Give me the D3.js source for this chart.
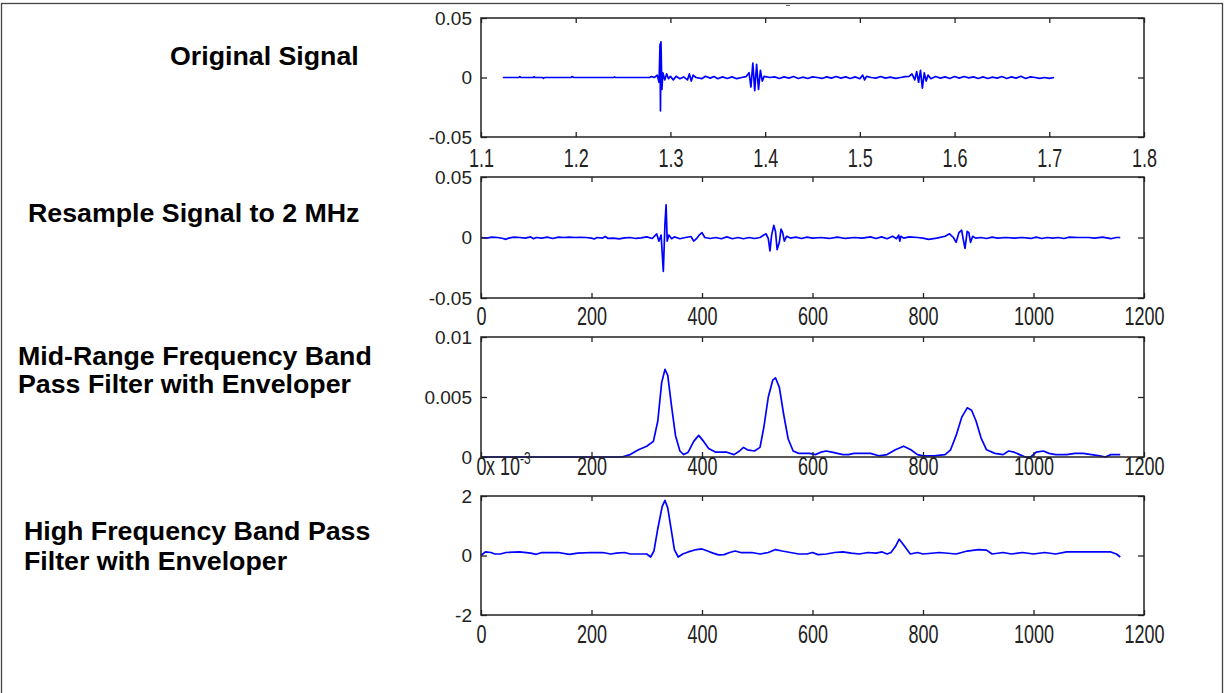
<!DOCTYPE html>
<html>
<head>
<meta charset="utf-8">
<title>Signal processing stages</title>
<script src="https://d3js.org/d3.v7.min.js"></script>
<style>
  body { margin: 0; background: #fff; }
  .caption { font-family: "Liberation Sans", Arial, sans-serif; font-size: 25px; font-weight: bold; fill: #000; }
  .tick text { font-family: "Liberation Sans", Arial, sans-serif; font-size: 18px; fill: #222; }
  .yax .tick text { font-size: 19px; }
  .tick line { stroke: #222; stroke-width: 1.3; }
</style>
</head>
<body>
<script>
// ---- data ----
// panel 1: original signal, time (ms) vs amplitude
const origT = [1.123,1.140,1.141,1.142,1.155,1.156,1.157,1.165,1.166,1.167,1.195,1.196,1.198,1.240,1.241,1.242,1.278,1.280,1.283,1.286,1.288,1.289,1.2895,1.290,1.291,1.292,1.294,1.296,1.298,1.300,1.303,1.306,1.310,1.314,1.318,1.320,1.322,1.324,1.327,1.333,1.337,1.342,1.346,1.350,1.355,1.360,1.365,1.370,1.375,1.380,1.383,1.385,1.387,1.389,1.391,1.393,1.395,1.397,1.399,1.405,1.410,1.415,1.420,1.425,1.430,1.435,1.440,1.445,1.450,1.455,1.460,1.465,1.470,1.475,1.480,1.485,1.490,1.495,1.500,1.503,1.505,1.507,1.512,1.517,1.522,1.527,1.532,1.538,1.543,1.548,1.552,1.555,1.558,1.560,1.562,1.564,1.566,1.568,1.570,1.572,1.575,1.580,1.585,1.590,1.595,1.600,1.605,1.610,1.615,1.620,1.625,1.630,1.635,1.640,1.645,1.650,1.655,1.660,1.665,1.670,1.675,1.680,1.685,1.690,1.695,1.700,1.705];
const origV = [0,0,0.0008,0,0,0.0006,0,0,-0.0008,0,0,0.0008,0,0,0.0005,0,0,0.0008,0,0.002,-0.004,0.028,-0.028,0.030,-0.010,0.004,-0.002,0.003,-0.001,0.001,-0.002,0.001,-0.001,0.0005,-0.002,0.003,-0.003,0.002,0,-0.001,0.001,-0.0005,0.0008,-0.001,0.0005,-0.0008,0.0005,-0.001,0,0.0008,0.004,-0.008,0.012,-0.011,0.011,-0.010,0.006,-0.003,0.001,0,0.0005,-0.0008,0.0005,-0.0005,0.0008,-0.0008,0.0003,-0.0008,0.0005,0,-0.0008,0.0005,-0.0005,0.0008,-0.0005,0.0005,-0.0008,0.0005,-0.001,0.002,-0.002,0.001,0,-0.0005,0.0008,-0.0005,0.0003,-0.0008,0,0.0008,0.001,0.003,-0.002,0.005,-0.004,0.006,-0.009,0.004,-0.003,0.002,-0.001,0.0008,-0.0005,0.0005,-0.0008,0.0008,-0.0005,0.0008,-0.0003,0.0005,-0.0008,0.0005,-0.0008,0.0003,-0.0005,0.0008,-0.0008,0.0005,-0.0005,0.001,-0.0008,0.0005,0,-0.0008,0,-0.0008,0];

// panel 2: resampled to 2 MHz, sample index vs amplitude
const resN = [0,10,20,30,40,45,50,60,70,80,90,95,100,110,120,130,140,150,160,170,180,190,200,205,210,220,225,230,240,250,260,270,280,290,300,310,318,322,326,330,333,335,337,340,345,350,360,370,380,385,390,395,400,405,415,425,435,445,455,465,475,485,495,505,512,516,520,523,526,530,533,536,540,543,546,549,553,560,570,580,590,600,615,630,645,660,675,690,705,715,725,735,745,752,756,758,760,765,775,790,800,810,825,840,848,855,860,865,870,873,876,880,883,886,890,895,905,915,925,935,950,965,980,995,1005,1015,1025,1035,1045,1055,1065,1080,1100,1110,1125,1140,1150,1157];
const resV = [0,-0.0005,0.0003,0,-0.0008,-0.0015,-0.0005,0.0003,0,-0.0005,0.0005,-0.001,0,-0.0005,0.0003,-0.0008,0.0003,0,0.0003,0,0.0002,0,-0.0005,-0.0012,0,-0.0005,0.0008,-0.0008,-0.0005,-0.0012,-0.0003,0,-0.0008,-0.0003,0.0005,-0.0008,0.003,-0.003,0.002,-0.028,0.012,0.027,-0.003,0.002,-0.001,0.0005,-0.001,0,0.0008,-0.003,-0.001,0.002,0.004,0,-0.0008,0,-0.001,0.0005,-0.001,0,-0.001,0,-0.0008,0,0.002,0.003,-0.001,-0.011,0.002,0.010,0.005,-0.010,-0.004,0.007,0.004,-0.003,0.001,-0.0005,0.0003,-0.0008,0.0003,-0.0005,0,-0.0008,0.0003,-0.0008,0,-0.0005,0.0005,-0.0008,0.0005,-0.001,0.001,-0.001,0.002,-0.003,0.001,-0.0005,0.0005,0,-0.0005,-0.0015,-0.0005,0.001,0.003,0,-0.004,0.004,0.006,-0.002,-0.009,0.005,0.004,-0.004,0.001,-0.0005,0,-0.0008,0.0003,-0.0005,0,-0.0005,0,-0.0008,0.0003,-0.0008,0,-0.0005,0,-0.0008,0.0003,0,0,-0.0005,0.0003,-0.001,0,0];

// panel 3: mid-range band envelope
const midN = [0,255,270,285,300,312,320,327,333,338,345,352,360,367,375,385,394,403,412,425,445,458,468,475,482,495,505,512,520,528,533,540,548,556,565,575,595,605,615,625,635,645,655,665,675,690,705,720,735,750,765,778,790,800,820,840,850,860,870,880,888,896,905,915,930,945,955,965,975,985,995,1005,1018,1028,1040,1060,1075,1090,1105,1120,1130,1140,1157];
const midV = [0,0,0.0002,0.0006,0.0009,0.0013,0.003,0.0062,0.0073,0.0068,0.0042,0.0018,0.0005,0.0002,0.0004,0.0013,0.0018,0.0013,0.0007,0.0004,0.0004,0.0002,0.0005,0.0008,0.0006,0.0005,0.0008,0.0025,0.005,0.0064,0.0066,0.0058,0.0035,0.0015,0.0005,0.0003,0.0003,0.0002,0.0004,0.0005,0.0004,0.0003,0.0002,0.0002,0.0003,0.0003,0.0003,0.0001,0.0002,0.0006,0.0009,0.0006,0.0002,0.0001,0.0001,0.0002,0.0006,0.0018,0.0033,0.0041,0.0039,0.003,0.0016,0.0006,0.0003,0.0002,0.0005,0.0004,0.0002,0,0,0.0004,0.0005,0.0003,0.0002,0.0002,0.0003,0.0003,0.0002,0.0001,0,0.0002,0.0002];

// panel 4: high band envelope (x 10^-3)
const highN = [0,8,18,25,35,45,70,90,100,110,140,160,175,200,220,235,245,260,270,290,300,307,313,320,328,333,338,344,350,357,365,375,390,400,410,420,430,440,450,460,470,490,505,520,533,545,560,575,590,600,610,625,640,655,670,685,700,715,726,735,742,750,757,765,777,790,800,830,860,880,900,915,925,945,960,980,1000,1020,1040,1060,1100,1140,1150,1157];
const highV = [0,0.12,0.1,0.05,0.05,0.1,0.12,0.08,0.04,0.1,0.1,0.04,0.08,0.1,0.1,0.05,0.08,0.1,0.05,0.05,0.05,-0.05,0.15,0.9,1.65,1.85,1.6,0.9,0.2,-0.05,0.05,0.12,0.2,0.22,0.15,0.08,0.02,0.03,0.1,0.15,0.1,0.1,0.05,0.1,0.2,0.15,0.1,0.05,0.05,0.1,0.03,0.05,0.1,0.12,0.08,0.05,0.1,0.08,0.12,0.05,0.1,0.3,0.55,0.35,0.05,0.1,0.05,0.1,0.05,0.15,0.2,0.18,0.05,0.1,0.05,0.1,0.05,0.1,0.05,0.12,0.12,0.12,0.05,-0.05];

const captions = [
  ["Original Signal"],
  ["Resample Signal to 2 MHz"],
  ["Mid-Range Frequency Band", "Pass Filter with Enveloper"],
  ["High Frequency Band Pass", "Filter with Enveloper"]
];
const timeTicks = [1.1, 1.2, 1.3, 1.4, 1.5, 1.6, 1.7, 1.8];
const sampleTicks = [0, 200, 400, 600, 800, 1000, 1200];

// ---- layout ----
const W = 1225, H = 693;
const left = 481, right = 1144;
const stretchY = 1.4;   // x tick labels in the picture are drawn taller than wide

const svg = d3.select("body").append("svg").attr("width", W).attr("height", H);

// outer frame of the slide
svg.append("rect").attr("x", 1.5).attr("y", 3.5).attr("width", 1221).attr("height", 720)
  .attr("fill", "none").attr("stroke", "#444").attr("stroke-width", 1.3);
svg.append("line").attr("x1", 786).attr("x2", 790).attr("y1", 5.5).attr("y2", 5.5)
  .attr("stroke", "#666").attr("stroke-width", 1);

const panels = [
  {top: 18, bottom: 137, lab: 30, xd: [1.1, 1.8], xt: timeTicks, yd: [-0.05, 0.05], yt: [-0.05, 0, 0.05], xs: origT, ys: origV,
   cap: {x: [170], y: [65]}},
  {top: 177, bottom: 298, lab: 27, xd: [0, 1200], xt: sampleTicks, yd: [-0.05, 0.05], yt: [-0.05, 0, 0.05], xs: resN, ys: resV,
   cap: {x: [28], y: [222]}},
  {top: 337, bottom: 457, lab: 18, xd: [0, 1200], xt: sampleTicks, yd: [0, 0.01], yt: [0, 0.005, 0.01], xs: midN, ys: midV,
   cap: {x: [18, 18], y: [365, 393]}},
  {top: 496, bottom: 615, lab: 28, xd: [0, 1200], xt: sampleTicks, yd: [-2, 2], yt: [-2, 0, 2], xs: highN, ys: highV,
   cap: {x: [24, 24], y: [540, 570]}}
];

panels.forEach((p, i) => {
  const x = d3.scaleLinear().domain(p.xd).range([left, right]);
  const y = d3.scaleLinear().domain(p.yd).range([p.bottom, p.top]);
  const g = svg.append("g");

  // caption on the left, slightly widened like the slide text
  captions[i].forEach((line, k) => {
    const t = g.append("text").attr("class", "caption").attr("x", p.cap.x[k]).attr("y", p.cap.y[k]).text(line);
    const len = t.node().getComputedTextLength();
    t.attr("textLength", len * 1.07).attr("lengthAdjust", "spacingAndGlyphs");
  });

  const pts = p.xs.map((v, k) => [v, p.ys[k]]);
  g.append("path").datum(pts)
    .attr("fill", "none").attr("stroke", "#0000ff").attr("stroke-width", 1.7)
    .attr("stroke-linejoin", "round")
    .attr("d", d3.line().x(d => x(d[0])).y(d => y(d[1])));

  const fmt = d => String(d);
  const xb = g.append("g").attr("transform", `translate(0,${p.bottom})`)
    .call(d3.axisBottom(x).tickValues(p.xt).tickFormat(fmt).tickSize(-5));
  xb.selectAll(".tick text").attr("y", 0).attr("dy", 0)
    .attr("transform", `translate(0,${p.lab}) scale(1,${stretchY})`);
  g.append("g").attr("transform", `translate(0,${p.top})`)
    .call(d3.axisTop(x).tickValues(p.xt).tickFormat("").tickSize(-5));
  g.append("g").attr("class", "yax").attr("transform", `translate(${left},0)`)
    .call(d3.axisLeft(y).tickValues(p.yt).tickFormat(fmt).tickSize(-6).tickPadding(9));
  g.append("g").attr("transform", `translate(${right},0)`)
    .call(d3.axisRight(y).tickValues(p.yt).tickFormat("").tickSize(-6));
  g.selectAll(".domain").remove();

  g.append("rect").attr("x", left).attr("y", p.top).attr("width", right - left).attr("height", p.bottom - p.top)
    .attr("fill", "none").attr("stroke", "#222").attr("stroke-width", 1.5);
});

// exponent label of the last panel, sits on the axis labels above it
const expo = svg.append("text").attr("transform", `translate(486,475) scale(1,${stretchY})`)
  .style("font-family", "'Liberation Sans', Arial, sans-serif").style("font-size", "18px").attr("fill", "#222");
expo.append("tspan").text("x 10");
expo.append("tspan").attr("dy", -8).style("font-size", "12px").text("-3");
</script>
</body>
</html>
